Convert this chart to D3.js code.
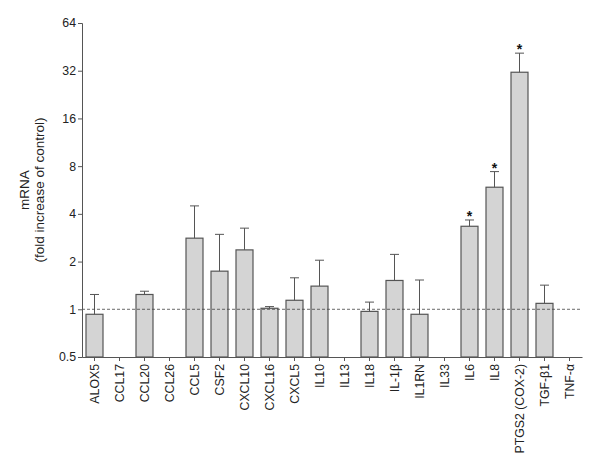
<!DOCTYPE html>
<html>
<head>
<meta charset="utf-8">
<script src="https://cdn.jsdelivr.net/npm/d3@7"></script>
<style>
  body { margin: 0; background: #fff; }
  text { font-family: "Liberation Sans", Arial, sans-serif; fill: #222; }
</style>
</head>
<body>
<div id="chart"></div>
<script>
// gene names along the x axis
var genes = ["ALOX5", "CCL17", "CCL20", "CCL26", "CCL5", "CSF2", "CXCL10", "CXCL16",
  "CXCL5", "IL10", "IL13", "IL18", "IL-1\u03b2", "IL1RN", "IL33", "IL6", "IL8",
  "PTGS2 (COX-2)", "TGF-\u03b21", "TNF-\u03b1"];

// fold increase (null = not detected), upper error bar, significance
var fold  = [0.93, null, 1.24, null, 2.81, 1.74, 2.37, 1.015, 1.14, 1.40, null, 0.97, 1.52, 0.93, null, 3.34, 5.89, 31.3, 1.09, null];
var upper = [1.24, null, 1.30, null, 4.49, 2.97, 3.25, 1.04, 1.58, 2.04, null, 1.11, 2.22, 1.53, null, 3.66, 7.39, 41.3, 1.42, null];
var signif = [0, 0, 0, 0, 0, 0, 0, 0, 0, 0, 0, 0, 0, 0, 0, 1, 1, 1, 0, 0];

var yTicks = [0.5, 1, 2, 4, 8, 16, 32, 64];

var width = 600, height = 466;
var mLeft = 82, mRight = 582, mTop = 23, mBottom = 357;

var data = genes.map(function(g, i) {
  return {gene: g, value: fold[i], err: upper[i], star: signif[i]};
});

var svg = d3.select("#chart").append("svg")
    .attr("width", width)
    .attr("height", height);

var x = d3.scaleBand()
    .domain(genes)
    .range([mLeft, mRight])
    .paddingInner(0.32)
    .paddingOuter(0.16);

var y = d3.scaleLog()
    .base(2)
    .domain([0.5, 64])
    .range([mBottom, mTop]);

// bars
var bars = data.filter(function(d) { return d.value != null; });

svg.selectAll("rect.bar")
  .data(bars).enter().append("rect")
    .attr("class", "bar")
    .attr("x", function(d) { return x(d.gene); })
    .attr("y", function(d) { return y(d.value); })
    .attr("width", x.bandwidth())
    .attr("height", function(d) { return mBottom - y(d.value); })
    .style("fill", "#d4d4d4")
    .style("stroke", "#555")
    .style("stroke-width", 1.2);

// error bars (upper only)
var cx = function(d) { return x(d.gene) + x.bandwidth() / 2; };

svg.selectAll("line.err")
  .data(bars).enter().append("line")
    .attr("class", "err")
    .attr("x1", cx).attr("x2", cx)
    .attr("y1", function(d) { return y(d.value); })
    .attr("y2", function(d) { return y(d.err); })
    .style("stroke", "#555");

svg.selectAll("line.cap")
  .data(bars).enter().append("line")
    .attr("class", "cap")
    .attr("x1", function(d) { return cx(d) - 4.5; })
    .attr("x2", function(d) { return cx(d) + 4.5; })
    .attr("y1", function(d) { return y(d.err); })
    .attr("y2", function(d) { return y(d.err); })
    .style("stroke", "#555");

// asterisks
svg.selectAll("text.star")
  .data(bars.filter(function(d) { return d.star; })).enter().append("text")
    .attr("class", "star")
    .attr("x", cx)
    .attr("y", function(d) { return y(d.err) + 1; })
    .attr("text-anchor", "middle")
    .style("font-size", "14px")
    .style("font-weight", "bold")
    .style("fill", "#111")
    .text("*");

// dashed reference line at 1
svg.append("line")
    .attr("x1", mLeft).attr("x2", mRight)
    .attr("y1", y(1)).attr("y2", y(1))
    .style("stroke", "#444")
    .style("stroke-dasharray", "3,2")
    .style("stroke-width", 0.8);

// axes
var yAxis = svg.append("g")
    .attr("transform", "translate(" + mLeft + ",0)")
    .call(d3.axisLeft(y).tickValues(yTicks).tickFormat(d3.format("")).tickSize(4).tickPadding(2));

var xAxis = svg.append("g")
    .attr("transform", "translate(0," + mBottom + ")")
    .call(d3.axisBottom(x).tickSize(4).tickPadding(3).tickSizeOuter(0));

[xAxis, yAxis].forEach(function(a) {
  a.selectAll("path, line").style("stroke", "#555");
  a.selectAll("text").style("font-size", "12.3px").style("fill", "#222")
    .style("font-family", "'Liberation Sans', Arial, sans-serif");
});

xAxis.selectAll("text")
    .attr("transform", "rotate(-90)")
    .attr("x", -7)
    .attr("y", 0)
    .attr("dy", "0.35em")
    .style("text-anchor", "end");

// y axis title
var title = svg.append("text")
    .attr("transform", "translate(33,190) rotate(-90)")
    .attr("text-anchor", "middle")
    .style("font-size", "13.5px");
title.append("tspan").attr("x", 0).attr("dy", "-0.3em").text("mRNA");
title.append("tspan").attr("x", 0).attr("dy", "1.15em").text("(fold increase of control)");
</script>
</body>
</html>
